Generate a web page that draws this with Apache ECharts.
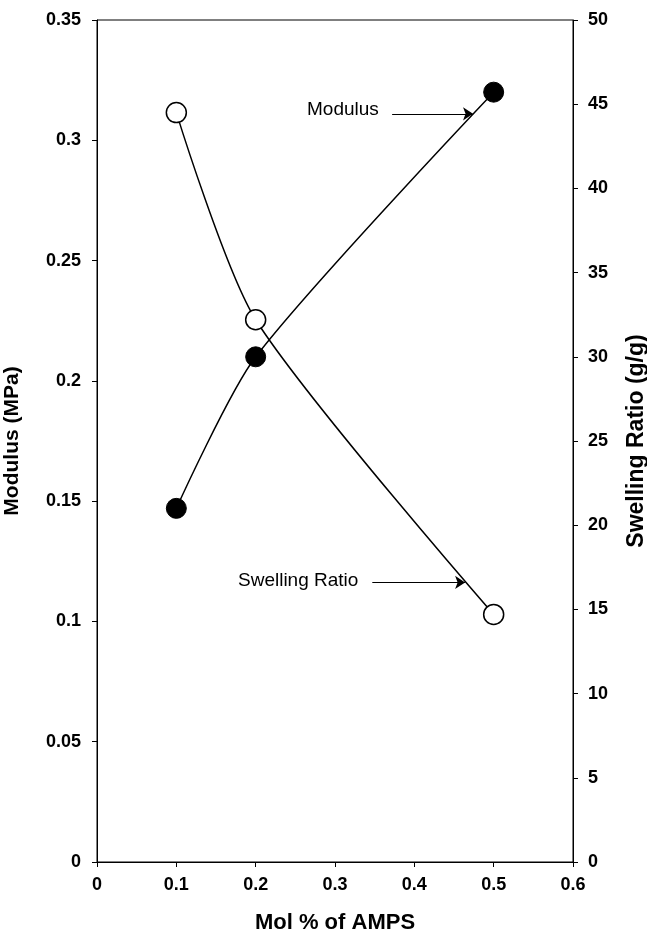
<!DOCTYPE html>
<html>
<head>
<meta charset="utf-8">
<script src="https://cdn.jsdelivr.net/npm/echarts@6/dist/echarts.min.js"></script>
<style>
  html, body { margin: 0; padding: 0; background: #fff; }
  #chart { width: 647px; height: 937px; }
</style>
</head>
<body>
<div id="chart"></div>
<script>
// 数据
var molPct = [0.1, 0.2, 0.5];
var modulus = [0.147, 0.210, 0.320];
var swelling = [44.5, 32.2, 14.7];
// 注释箭头 (数据坐标)
var modulusArrow = [[0.372, 0.311], [0.474, 0.311]];
var swellingArrow = [[0.347, 16.6], [0.464, 16.6]];

var font = 'Liberation Sans, Arial, sans-serif';

var chart = echarts.init(document.getElementById('chart'));
var option = {
	backgroundColor: '#fff',
	animation: false,
	grid: {
		left: 97, right: 74, top: 20, bottom: 75,
		outerBoundsMode: 'none', containLabel: false,
		show: true, borderColor: '#000', borderWidth: 1
	},
	xAxis: {
		type: 'value', min: 0, max: 0.6, interval: 0.1,
		name: 'Mol % of AMPS', nameLocation: 'middle', nameGap: 50,
		nameTextStyle: { fontFamily: font, fontWeight: 'bold', fontSize: 22, color: '#000' },
		axisLine: { lineStyle: { color: '#000' } },
		axisTick: { inside: false, length: 5, lineStyle: { color: '#000' } },
		axisLabel: { fontFamily: font, fontWeight: 'bold', fontSize: 18, color: '#000', margin: 14 },
		splitLine: { show: false }
	},
	yAxis: [{
		type: 'value', min: 0, max: 0.35, interval: 0.05,
		name: 'Modulus (MPa)', nameLocation: 'middle', nameGap: 74,
		nameTextStyle: { fontFamily: font, fontWeight: 'bold', fontSize: 21, color: '#000' },
		axisLine: { show: true, lineStyle: { color: '#000' } },
		axisTick: { show: true, length: 5, lineStyle: { color: '#000' } },
		axisLabel: { fontFamily: font, fontWeight: 'bold', fontSize: 18, color: '#000', margin: 16 },
		splitLine: { show: false }
	}, {
		type: 'value', min: 0, max: 50, interval: 5, position: 'right',
		name: 'Swelling Ratio (g/g)', nameLocation: 'middle', nameGap: 52, nameRotate: 90,
		nameTextStyle: { fontFamily: font, fontWeight: 'bold', fontSize: 23, color: '#000' },
		axisLine: { show: true, lineStyle: { color: '#000' } },
		axisTick: { show: true, length: 5, lineStyle: { color: '#000' } },
		axisLabel: { fontFamily: font, fontWeight: 'bold', fontSize: 18, color: '#000', margin: 15 },
		splitLine: { show: false }
	}],
	series: [{
		name: 'Modulus',
		type: 'line',
		yAxisIndex: 0,
		smooth: 0.25,
		data: molPct.map(function (x, i) { return [x, modulus[i]]; }),
		symbol: 'circle', symbolSize: 20,
		lineStyle: { color: '#000', width: 1.5 },
		itemStyle: { color: '#000', borderColor: '#000', borderWidth: 1 },
		markLine: {
			silent: true, symbol: ['none', 'arrow'], symbolSize: 10,
			lineStyle: { color: '#000', width: 1.2, type: 'solid' },
			label: { show: false },
			data: [[{ coord: modulusArrow[0] }, { coord: modulusArrow[1] }]]
		}
	}, {
		name: 'Swelling Ratio',
		type: 'line',
		yAxisIndex: 1,
		smooth: 0.25,
		data: molPct.map(function (x, i) { return [x, swelling[i]]; }),
		symbol: 'circle', symbolSize: 20,
		lineStyle: { color: '#000', width: 1.5 },
		itemStyle: { color: '#fff', borderColor: '#000', borderWidth: 1.5 },
		markLine: {
			silent: true, symbol: ['none', 'arrow'], symbolSize: 10,
			lineStyle: { color: '#000', width: 1.2, type: 'solid' },
			label: { show: false },
			data: [[{ coord: swellingArrow[0] }, { coord: swellingArrow[1] }]]
		}
	}],
	graphic: [{
		type: 'text', left: 307, top: 100,
		style: { text: 'Modulus', font: '19px ' + font, fill: '#000' }
	}, {
		type: 'text', left: 238, top: 571,
		style: { text: 'Swelling Ratio', font: '19px ' + font, fill: '#000' }
	}]
};
chart.setOption(option);
</script>
</body>
</html>
